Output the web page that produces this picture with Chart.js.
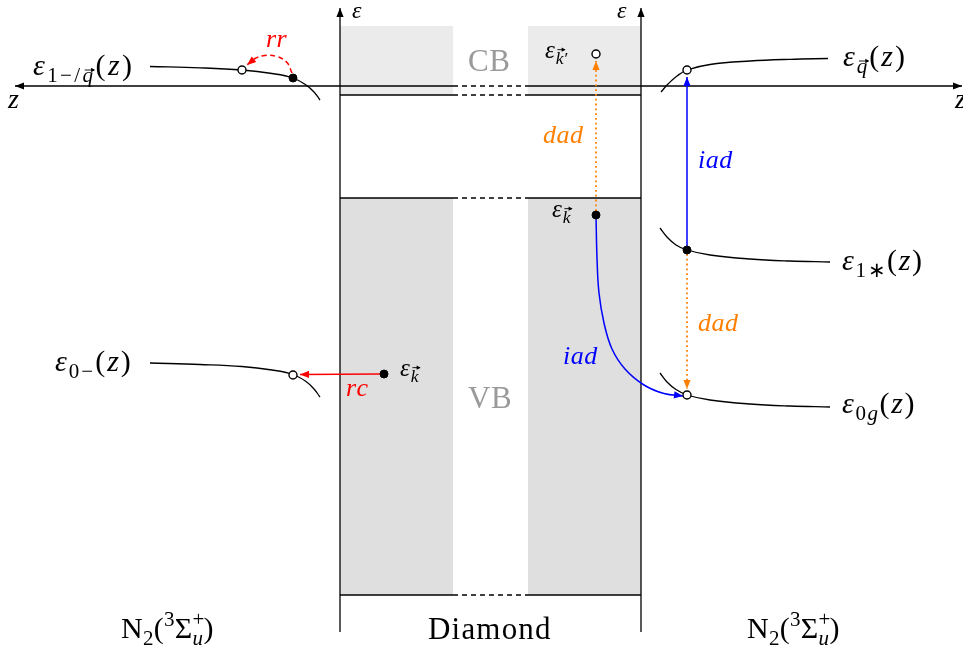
<!DOCTYPE html>
<html>
<head>
<meta charset="utf-8">
<script src="https://cdn.jsdelivr.net/npm/chart.js@4/dist/chart.umd.min.js"></script>
<style>
  html, body { margin: 0; padding: 0; background: #fff; }
  canvas { display: block; }
</style>
</head>
<body>
<canvas id="diagram" width="963" height="659"></canvas>
<script>
// diagram units: x runs along the picture, y is energy (grows downward)
const bandLeft = [340, 453]
const bandRight = [528, 641]
const cbLevels = [26, 95]
const vbLevels = [198, 595]
const zLevel = 86
const axisX = [340, 641]
const axisSpan = [632, 8]
const zAxisEnds = [15, 962]

const levelOneLeft = [[150, 66.5], [200, 67.8], [242, 70], [272, 73.5], [293, 78], [306, 85], [314, 92], [320, 100]]
const levelZeroLeft = [[150, 363], [200, 364.5], [242, 366.5], [272, 370], [293, 374.5], [306, 381.5], [314, 389], [320, 397]]
const levelQRight = [[661, 92], [668, 84], [677, 76], [687, 70], [710, 64.5], [750, 61], [790, 59.3], [828, 58.5]]
const levelStarRight = [[660, 228], [667, 237], [676, 245], [687, 250], [710, 255], [750, 259], [790, 261], [830, 262]]
const levelGroundRight = [[660, 373], [667, 382], [676, 389.5], [687, 395], [710, 400], [750, 404], [790, 406], [830, 407]]

const filledStates = [[293, 78], [596, 215], [687, 250], [384, 374]]
const emptyStates = [[242, 70], [596, 54], [687, 70], [293, 375], [687, 395]]

const dadUp = [[596, 211], [596, 61]]
const dadDown = [[687, 254], [687, 389]]
const iadUp = [[687, 246], [687, 77]]
const iadCurve = [[596, 215], [597, 258], [599, 293], [604, 323], [612, 349], [625, 369], [644, 385], [664, 393.5], [683, 396]]
const rcLine = [[380, 374], [300, 374.5]]
const rrCurve = [[292, 73], [287, 62.5], [277, 56.5], [265, 55.5], [255, 58.5], [247, 65]]

const ORANGE = '#ff8000'
const BLUE = '#0000ff'
const RED = '#ff0000'

const pts = (arr) => arr.map(([x, y]) => ({ x, y }))
const box = (xs, ys) => pts([[xs[0], ys[0]], [xs[1], ys[0]], [xs[1], ys[1]], [xs[0], ys[1]], [xs[0], ys[0]]])

const rect = (xs, ys, color) => ({
  data: box(xs, ys), showLine: true, fill: 'shape', backgroundColor: color,
  borderWidth: 0, pointRadius: 0, tension: 0, order: 5
})
const seg = (arr, opts) => Object.assign({
  data: pts(arr), showLine: true, fill: false, borderColor: '#000', borderWidth: 1.3,
  pointRadius: 0, tension: 0, order: 3
}, opts)

const datasets = [
  rect(bandLeft, cbLevels, '#ebebeb'),
  rect(bandRight, cbLevels, '#ebebeb'),
  rect(bandLeft, vbLevels, '#dfdfdf'),
  rect(bandRight, vbLevels, '#dfdfdf'),
  // z axes
  seg([[bandLeft[1], zLevel], [zAxisEnds[0], zLevel]], { arrow: true }),
  seg([[bandLeft[1], zLevel], [bandRight[0], zLevel]], { borderDash: [5, 4] }),
  seg([[bandRight[0], zLevel], [zAxisEnds[1], zLevel]], { arrow: true }),
  // energy axes
  seg([[axisX[0], axisSpan[0]], [axisX[0], axisSpan[1]]], { arrow: true }),
  seg([[axisX[1], axisSpan[0]], [axisX[1], axisSpan[1]]], { arrow: true }),
]
// band edges
;[cbLevels[1], vbLevels[0], vbLevels[1]].forEach(y => {
  datasets.push(seg([[bandLeft[0], y], [bandLeft[1], y]]))
  datasets.push(seg([[bandLeft[1], y], [bandRight[0], y]], { borderDash: [5, 4] }))
  datasets.push(seg([[bandRight[0], y], [bandRight[1], y]]))
})
// adsorbate levels
;[levelOneLeft, levelZeroLeft, levelQRight, levelStarRight, levelGroundRight].forEach(c => {
  datasets.push(seg(c, { tension: 0.4 }))
})
// transitions
datasets.push(seg(dadUp, { borderColor: ORANGE, borderWidth: 1.8, borderDash: [1.8, 3], arrow: true, order: 2 }))
datasets.push(seg(dadDown, { borderColor: ORANGE, borderWidth: 1.8, borderDash: [1.8, 3], arrow: true, order: 2 }))
datasets.push(seg(iadUp, { borderColor: BLUE, borderWidth: 1.5, arrow: true, order: 2 }))
datasets.push(seg(iadCurve, { borderColor: BLUE, borderWidth: 1.5, tension: 0.4, arrow: true, order: 2 }))
datasets.push(seg(rcLine, { borderColor: RED, borderWidth: 1.5, arrow: true, order: 2 }))
datasets.push(seg(rrCurve, { borderColor: RED, borderWidth: 1.5, borderDash: [5, 3.5], tension: 0.4, arrow: true, order: 2 }))
// states
datasets.push({ data: pts(filledStates), showLine: false, pointRadius: 4, pointBackgroundColor: '#000', pointBorderColor: '#000', pointBorderWidth: 1, order: 1 })
datasets.push({ data: pts(emptyStates), showLine: false, pointRadius: 4, pointBackgroundColor: '#fff', pointBorderColor: '#000', pointBorderWidth: 1.4, order: 1 })

// text: [x, baseline, size, letter gap, colour, parts]; flags i=italic s=sub p=sup v/V=vector n=no advance
const texts = [
  [33, 75, 30, 2.4, '#000', [['ε', 'i'], ['1−/', 's'], ['q', 'siv'], ['(', ''], ['z', 'i'], [')', '']]],
  [55, 371, 30, 2, '#000', [['ε', 'i'], ['0−', 's'], ['(', ''], ['z', 'i'], [')', '']]],
  [843, 66, 30, 2, '#000', [['ε', 'i'], ['q', 'siv'], ['(', ''], ['z', 'i'], [')', '']]],
  [842, 270, 30, 1.6, '#000', [['ε', 'i'], ['1∗', 's'], ['(', ''], ['z', 'i'], [')', '']]],
  [842, 413, 30, 1.6, '#000', [['ε', 'i'], ['0', 's'], ['g', 'si'], ['(', ''], ['z', 'i'], [')', '']]],
  [545, 58, 25, 1, '#000', [['ε', 'i'], ['k', 'siV'], ['′', 's']]],
  [552, 217, 25, 1, '#000', [['ε', 'i'], ['k', 'siV']]],
  [400, 376, 25, 1, '#000', [['ε', 'i'], ['k', 'siV']]],
  [468, 71, 31, 0.5, '#9a9a9a', [['CB', '']]],
  [468, 408, 31, 0.5, '#9a9a9a', [['VB', '']]],
  [543, 143, 26, 0.5, ORANGE, [['dad', 'i']]],
  [698, 331, 26, 0.5, ORANGE, [['dad', 'i']]],
  [563, 364, 26, 0.5, BLUE, [['iad', 'i']]],
  [698, 168, 26, 0.5, BLUE, [['iad', 'i']]],
  [346, 396, 26, 0.5, RED, [['rc', 'i']]],
  [266, 47, 26, 0.5, RED, [['rr', 'i']]],
  [352, 18, 24, 0, '#000', [['ε', 'i']]],
  [617, 18, 24, 0, '#000', [['ε', 'i']]],
  [8, 108, 28, 0, '#000', [['z', 'i']]],
  [955, 108, 28, 0, '#000', [['z', 'i']]],
  [121, 638, 30, 0.3, '#000', [['N', ''], ['2', 's'], ['(', ''], ['3', 'p'], ['Σ', ''], ['+', 'pn'], ['u', 'si'], [')', '']]],
  [747, 638, 30, 0.3, '#000', [['N', ''], ['2', 's'], ['(', ''], ['3', 'p'], ['Σ', ''], ['+', 'pn'], ['u', 'si'], [')', '']]],
  [428, 639, 31, 1.2, '#000', [['Diamond', '']]],
]

const arrowHeads = {
  id: 'arrowHeads',
  afterDatasetsDraw(chart) {
    const ctx = chart.ctx
    chart.data.datasets.forEach((ds, i) => {
      if (!ds.arrow) return
      const el = chart.getDatasetMeta(i).data
      const b = el[el.length - 1]
      const a = el[el.length - 2]
      const fx = b.cp1x !== undefined && ds.tension ? b.cp1x : a.x
      const fy = b.cp1y !== undefined && ds.tension ? b.cp1y : a.y
      const ang = Math.atan2(b.y - fy, b.x - fx)
      const len = 9, half = 3.6
      ctx.save()
      ctx.translate(b.x, b.y)
      ctx.rotate(ang)
      ctx.beginPath()
      ctx.moveTo(0, 0)
      ctx.lineTo(-len, -half)
      ctx.lineTo(-len, half)
      ctx.closePath()
      ctx.fillStyle = ds.borderColor
      ctx.fill()
      ctx.restore()
    })
  }
}

const mathText = {
  id: 'mathText',
  afterDraw(chart) {
    const ctx = chart.ctx
    const sx = chart.scales.x, sy = chart.scales.y
    ctx.save()
    ctx.textBaseline = 'alphabetic'
    texts.forEach(([x0, y0, size, gap, color, parts]) => {
      let cx = sx.getPixelForValue(x0)
      const y = sy.getPixelForValue(y0)
      parts.forEach(([t, f]) => {
        const sub = f.includes('s'), sup = f.includes('p')
        const sz = (sub || sup) ? size * 0.7 : size
        const dy = sub ? size * 0.24 : sup ? -size * 0.4 : 0
        ctx.font = (f.includes('i') ? 'italic ' : '') + sz + 'px "Liberation Serif", serif'
        ctx.fillStyle = color
        ctx.strokeStyle = color
        const start = cx
        let px = cx
        for (const ch of t) {
          ctx.fillText(ch, px, y + dy)
          px += ctx.measureText(ch).width + gap
        }
        const w = px - start - gap
        if (f.includes('v') || f.includes('V')) {
          const ay = y + dy - sz * (f.includes('V') ? 0.82 : 0.58)
          const ax0 = start + w * 0.2, ax1 = start + w + 1
          ctx.lineWidth = 0.9
          ctx.beginPath()
          ctx.moveTo(ax0, ay)
          ctx.lineTo(ax1, ay)
          ctx.stroke()
          ctx.beginPath()
          ctx.moveTo(ax1 + 1, ay)
          ctx.lineTo(ax1 - 3, ay - 2.2)
          ctx.lineTo(ax1 - 3, ay + 2.2)
          ctx.closePath()
          ctx.fill()
        }
        if (!f.includes('n')) cx = px
      })
    })
    ctx.restore()
  }
}

const diagram = new Chart(
  document.getElementById('diagram'),
  {
    type: 'scatter',
    data: { datasets },
    options: {
      responsive: false,
      animation: false,
      devicePixelRatio: 1,
      layout: { padding: 0, autoPadding: false },
      scales: {
        x: { type: 'linear', min: 0, max: 963, display: false },
        y: { type: 'linear', min: 0, max: 659, reverse: true, display: false },
      },
      plugins: {
        legend: { display: false },
        tooltip: { enabled: false },
      },
    },
    plugins: [arrowHeads, mathText],
  }
)
</script>
</body>
</html>
